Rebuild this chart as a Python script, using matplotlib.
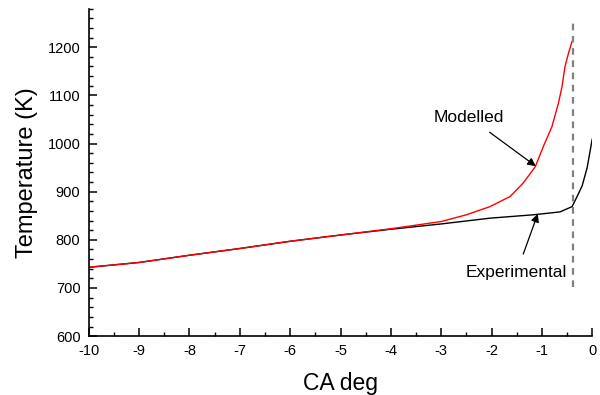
import matplotlib.pyplot as plt
from matplotlib.ticker import MultipleLocator

plt.rcParams['font.family'] = ['Liberation Sans', 'DejaVu Sans']
plt.rcParams['axes.unicode_minus'] = False

# Modelled (red) curve
mod_ca = [-10, -9, -8, -7, -6, -5, -4, -3, -2.5, -2.03, -1.63, -1.37, -1.13,
          -0.97, -0.80, -0.67, -0.60, -0.54, -0.47, -0.40]
mod_temp = [743, 753, 768, 782, 797, 810, 823, 838, 852, 869, 890, 918, 952,
            994, 1035, 1084, 1118, 1160, 1188, 1212]

# Experimental (black) curve
exp_ca = [-10, -9, -8, -7, -6, -5, -4, -3, -2.03, -1.17, -0.64, -0.40,
          -0.3, -0.2, -0.1, 0]
exp_temp = [743, 753, 768, 782, 797, 810, 822, 833, 845, 852, 858, 869,
            890, 912, 950, 1009]

# TDC marker position and extent
tdc_ca = -0.38
tdc_range = [702, 1255]

fig = plt.figure(figsize=(6, 3.95), dpi=100)
ax = fig.add_axes([0.148, 0.149, 0.839, 0.829])

ax.plot(exp_ca, exp_temp, color='black', lw=1.0)
ax.plot(mod_ca, mod_temp, color='red', lw=1.0)
ax.plot([tdc_ca, tdc_ca], tdc_range, color='gray', lw=1.6, ls=(0, (3, 2.5)))

ax.set_xlim(-10, 0)
ax.set_ylim(600, 1280)
ax.xaxis.set_major_locator(MultipleLocator(1))
ax.xaxis.set_minor_locator(MultipleLocator(0.5))
ax.yaxis.set_major_locator(MultipleLocator(100))
ax.yaxis.set_minor_locator(MultipleLocator(20))
ax.set_yticks(range(600, 1201, 100))

for s in ['top', 'right']:
    ax.spines[s].set_visible(False)
for s in ['left', 'bottom']:
    ax.spines[s].set_linewidth(1.2)

ax.tick_params(which='major', direction='in', length=6, width=1.1, labelsize=10.5, pad=6)
ax.tick_params(which='minor', direction='in', length=3, width=1.0)

ax.set_xlabel('CA deg', fontsize=16.5, labelpad=10)
ax.set_ylabel('Temperature (K)', fontsize=17, labelpad=7)

ax.annotate('Modelled', xy=(-1.12, 953), xytext=(-2.45, 1055),
            fontsize=12.5, ha='center', va='center',
            arrowprops=dict(arrowstyle='-|>', color='black', lw=0.9,
                            mutation_scale=12, shrinkA=6, shrinkB=0))
ax.annotate('Experimental', xy=(-1.08, 854), xytext=(-1.5, 733),
            fontsize=12.5, ha='center', va='center',
            arrowprops=dict(arrowstyle='-|>', color='black', lw=0.9,
                            mutation_scale=12, shrinkA=6, shrinkB=0))

plt.savefig('out.png', dpi=100)
